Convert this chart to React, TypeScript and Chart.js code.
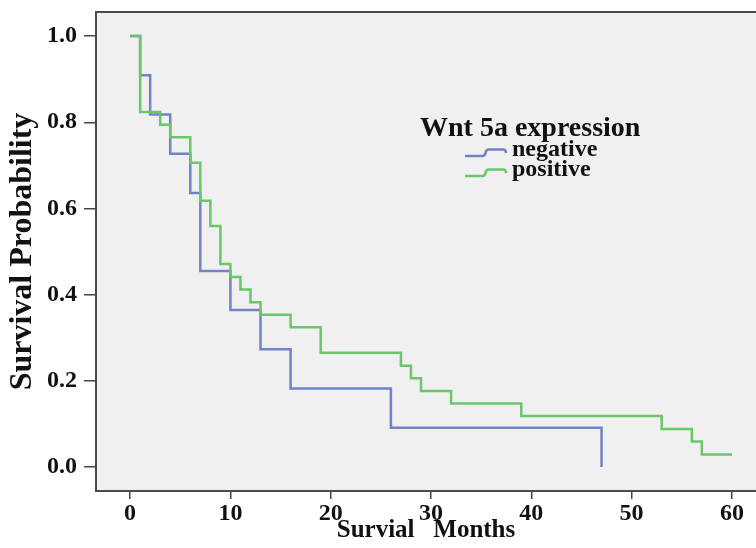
import React, { useEffect, useRef } from "react";
import { Chart, registerables } from "chart.js";

Chart.register(...registerables);

// ---- data ----
const negativeTimes = [0, 1, 2, 4, 6, 7, 10, 13, 16, 26, 47];
const negativeSurvival = [1.0, 0.909, 0.818, 0.727, 0.636, 0.455, 0.364, 0.273, 0.182, 0.091, 0.0];
const positiveTimes = [0, 1, 3, 4, 6, 7, 8, 9, 10, 11, 12, 13, 16, 19, 27, 28, 29, 32, 39, 53, 56, 57, 60];
const positiveSurvival = [
  1.0, 0.824, 0.794, 0.765, 0.706, 0.618, 0.559, 0.471, 0.441, 0.412, 0.382, 0.353, 0.324, 0.265, 0.235,
  0.206, 0.176, 0.147, 0.118, 0.088, 0.059, 0.029, 0.029,
];
const xTicks = [0, 10, 20, 30, 40, 50, 60];
const yTicks = [0, 0.2, 0.4, 0.6, 0.8, 1.0];
const seriesNames = ["negative", "positive"];
const legendTitle = "Wnt 5a expression";
const xTitle = "Survial   Months";
const yTitle = "Survival Probability";

const BLUE = "#7282c6";
const GREEN = "#69c669";
const FONT = '"Liberation Serif", "Times New Roman", serif';

const chromePlugin = {
  id: "chrome",
  beforeDraw(chart: any) {
    const { ctx, chartArea, width, height } = chart;
    ctx.save();
    ctx.fillStyle = "#ffffff";
    ctx.fillRect(0, 0, width, height);
    ctx.fillStyle = "#f0f0f0";
    ctx.fillRect(chartArea.left, chartArea.top, chartArea.right - chartArea.left, chartArea.bottom - chartArea.top);
    ctx.restore();
  },
  afterDraw(chart: any) {
    const { ctx, chartArea } = chart;
    ctx.save();
    // top frame line
    ctx.strokeStyle = "#4a4a4a";
    ctx.lineWidth = 2;
    ctx.beginPath();
    ctx.moveTo(chartArea.left - 1, chartArea.top);
    ctx.lineTo(chartArea.right, chartArea.top);
    ctx.stroke();

    // legend
    const colors = [BLUE, GREEN];
    ctx.fillStyle = "#111111";
    ctx.textAlign = "left";
    ctx.textBaseline = "alphabetic";
    ctx.font = `bold 28px ${FONT}`;
    ctx.fillText(legendTitle, 420, 136);
    ctx.font = `bold 24px ${FONT}`;
    seriesNames.forEach((name, i) => {
      const base = 156 + i * 20;
      ctx.strokeStyle = colors[i];
      ctx.lineWidth = 2.5;
      ctx.beginPath();
      ctx.moveTo(465, base);
      ctx.lineTo(482, base);
      ctx.quadraticCurveTo(485, base, 485.5, base - 3);
      ctx.quadraticCurveTo(486, base - 6.5, 489, base - 6.5);
      ctx.lineTo(503, base - 6.5);
      ctx.quadraticCurveTo(506, base - 6.5, 506, base - 3);
      ctx.stroke();
      ctx.fillText(name, 512, base);
    });
    ctx.restore();
  },
};

export default function App() {
  const canvasRef = useRef<HTMLCanvasElement | null>(null);

  useEffect(() => {
    if (!canvasRef.current) return;
    const toPoints = (xs: number[], ys: number[]) => xs.map((x, i) => ({ x, y: ys[i] }));
    const chart = new Chart(canvasRef.current, {
      type: "line",
      data: {
        datasets: [
          {
            label: seriesNames[0],
            data: toPoints(negativeTimes, negativeSurvival),
            borderColor: BLUE,
            borderWidth: 2.5,
            stepped: "before",
            pointRadius: 0,
            fill: false,
            order: 1,
          },
          {
            label: seriesNames[1],
            data: toPoints(positiveTimes, positiveSurvival),
            borderColor: GREEN,
            borderWidth: 2.5,
            stepped: "before",
            pointRadius: 0,
            fill: false,
            order: 0,
          },
        ],
      },
      options: {
        responsive: false,
        animation: false,
        layout: { padding: { top: 12, left: 0, right: 0, bottom: 0 } },
        plugins: { legend: { display: false }, tooltip: { enabled: false } },
        scales: {
          x: {
            type: "linear",
            min: -3.4,
            max: 62.4,
            afterBuildTicks: (s: any) => {
              s.ticks = xTicks.map((v) => ({ value: v }));
            },
            afterFit: (s: any) => {
              s.height = 57;
              s.paddingLeft = 0;
              s.paddingRight = 0;
            },
            ticks: {
              autoSkip: false,
              maxRotation: 0,
              padding: 0,
              color: "#111111",
              font: { family: FONT, size: 24, weight: "bold" },
              callback: (v: any) => String(v),
            },
            grid: { display: true, drawOnChartArea: false, drawTicks: true, tickLength: 8, color: "#444444", lineWidth: 1.5 },
            border: { display: true, color: "#4a4a4a", width: 2 },
            title: {
              display: true,
              text: xTitle,
              color: "#111111",
              font: { family: FONT, size: 25, weight: "bold", lineHeight: 1.2 },
              padding: { top: 0, bottom: 2 },
            },
          },
          y: {
            type: "linear",
            min: -0.056,
            max: 1.056,
            afterBuildTicks: (s: any) => {
              s.ticks = yTicks.map((v) => ({ value: v }));
            },
            afterFit: (s: any) => {
              s.width = 96;
              s.paddingTop = 0;
              s.paddingBottom = 0;
            },
            ticks: {
              padding: 7,
              color: "#111111",
              font: { family: FONT, size: 24, weight: "bold" },
              callback: (v: any) => Number(v).toFixed(1),
            },
            grid: { display: true, drawOnChartArea: false, drawTicks: true, tickLength: 12, color: "#444444", lineWidth: 1.5 },
            border: { display: true, color: "#4a4a4a", width: 2 },
            title: {
              display: true,
              text: yTitle,
              color: "#111111",
              font: { family: FONT, size: 32, weight: "bold", lineHeight: 1.2 },
              padding: { top: 4, bottom: 0 },
            },
          },
        },
      },
      plugins: [chromePlugin],
    } as any);
    return () => chart.destroy();
  }, []);

  return (
    <div style={{ position: "absolute", left: 0, top: 0, width: 756, height: 548 }}>
      <canvas ref={canvasRef} width={756} height={548} style={{ display: "block" }} />
    </div>
  );
}
